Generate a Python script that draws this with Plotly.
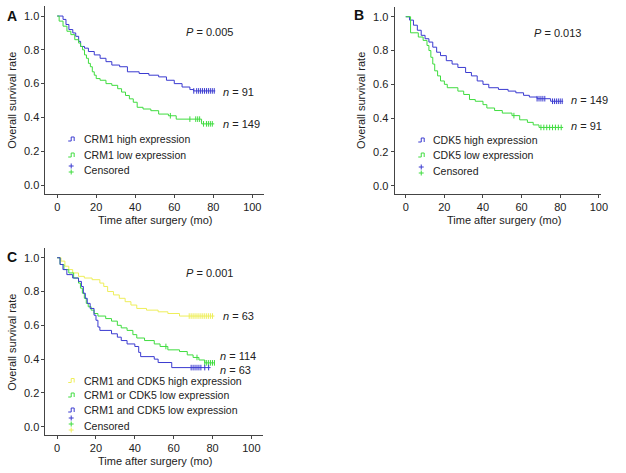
import numpy as np
import plotly.graph_objects as go

W, H = 626, 473

# ---------------- DATA ----------------
# Panel A: CRM1
a_high_t = [0, 3, 4.5, 6, 8, 9.5, 11, 12, 14, 16, 19, 22, 25, 28, 32, 36, 42, 47, 52, 56, 60, 64, 68, 70, 81]
a_high_s = [1.0, 0.98, 0.95, 0.92, 0.90, 0.88, 0.85, 0.82, 0.81, 0.79, 0.77, 0.75, 0.73, 0.71, 0.70, 0.67, 0.66, 0.65, 0.64, 0.62, 0.60, 0.58, 0.565, 0.557, 0.557]
a_high_cens = [70, 71.5, 72.5, 73.5, 74.5, 75.5, 76.5, 77.5, 78.5, 79.5, 80.5]

a_low_t = [0, 1, 3, 5, 7, 9, 11, 12, 13, 14, 15, 16, 17, 18, 19, 20, 22, 25, 28, 31, 33, 35, 37, 39, 41, 44, 48, 52, 57, 61, 74, 80.5]
a_low_s = [1.0, 0.97, 0.94, 0.91, 0.89, 0.86, 0.84, 0.82, 0.80, 0.77, 0.75, 0.72, 0.70, 0.67, 0.65, 0.63, 0.62, 0.60, 0.59, 0.57, 0.55, 0.53, 0.51, 0.49, 0.46, 0.45, 0.44, 0.42, 0.41, 0.39, 0.362, 0.362]
a_low_cens = [58, 68, 71, 72, 73, 75, 76.5, 77.5, 78.5, 79.5]

# Panel B: CDK5
b_high_t = [0, 2, 4, 6, 8, 10, 12, 14, 16, 18, 21, 24, 27, 31, 34, 37, 40, 43, 48, 53, 57, 61, 64, 68, 75, 81.5]
b_high_s = [1.0, 0.98, 0.95, 0.92, 0.89, 0.87, 0.85, 0.82, 0.79, 0.77, 0.74, 0.72, 0.70, 0.67, 0.65, 0.62, 0.60, 0.58, 0.57, 0.56, 0.55, 0.535, 0.525, 0.515, 0.50, 0.50]
b_high_cens = [68, 69, 70, 71, 72, 76, 77, 78, 79, 80, 81]

b_low_t = [0, 2.5, 6.5, 9, 11, 12, 13, 14, 15, 16.5, 18, 20, 21.5, 27, 30, 33, 36, 40, 42, 46, 50, 55, 59, 63, 66, 69, 81.5]
b_low_s = [1.0, 0.905, 0.88, 0.86, 0.83, 0.80, 0.76, 0.72, 0.68, 0.65, 0.62, 0.60, 0.58, 0.56, 0.54, 0.51, 0.50, 0.48, 0.46, 0.445, 0.43, 0.415, 0.39, 0.375, 0.36, 0.345, 0.345]
b_low_cens = [56, 70, 71.5, 73, 74.5, 76, 77.5, 79, 80.5]

# Panel C: CRM1 and CDK5 combined
c_both_high_t = [0, 2, 4, 6, 8, 11, 14, 18, 22, 24, 26, 29, 32, 35, 38, 41, 46, 52, 57, 63, 81]
c_both_high_s = [1.0, 0.98, 0.95, 0.93, 0.91, 0.89, 0.88, 0.87, 0.85, 0.83, 0.80, 0.78, 0.76, 0.74, 0.72, 0.70, 0.69, 0.68, 0.67, 0.655, 0.655]
c_both_high_cens = [68, 69, 70, 71, 72, 73, 74, 75, 76, 77, 78, 79, 80]

c_one_low_t = [0, 1.5, 3.5, 6, 8.5, 11, 12, 13, 14, 15, 16, 17.5, 19, 21, 25, 28, 31, 33, 36, 39, 41, 45, 50, 53, 57, 63, 67, 70, 73, 76, 81]
c_one_low_s = [1.0, 0.96, 0.93, 0.91, 0.88, 0.85, 0.82, 0.79, 0.76, 0.73, 0.71, 0.69, 0.67, 0.655, 0.64, 0.625, 0.60, 0.585, 0.57, 0.545, 0.525, 0.51, 0.49, 0.475, 0.455, 0.445, 0.425, 0.41, 0.395, 0.378, 0.378]
c_one_low_cens = [56, 72, 76, 77, 78, 79, 80, 81]

c_both_low_t = [0, 1.5, 3, 5, 8, 11, 12.5, 13.5, 14.5, 15.5, 17, 19, 20, 21, 22, 28, 31, 33, 36, 40, 42, 43, 50, 52, 59, 79]
c_both_low_s = [1.0, 0.96, 0.93, 0.90, 0.88, 0.86, 0.83, 0.79, 0.76, 0.73, 0.70, 0.66, 0.63, 0.59, 0.57, 0.55, 0.53, 0.51, 0.49, 0.475, 0.44, 0.415, 0.40, 0.38, 0.35, 0.35]
c_both_low_cens = [69, 70, 71, 72, 73, 74, 76, 78]

BLUE = "#3a3ad0"
GREEN = "#3fdc3f"
YELLOW = "#eeee5a"
TXT = "#222222"
FONT = "Liberation Sans"
LEG = 10.5


def step_value(ts, ss, t):
    idx = np.searchsorted(np.asarray(ts), t, side="right") - 1
    idx = max(0, min(idx, len(ss) - 1))
    return ss[idx]


def fx(px):
    return px / W


def fy(py):
    return 1 - py / H


fig = go.Figure()

panels = [
    ("x", "y", [(a_high_t, a_high_s, a_high_cens, BLUE), (a_low_t, a_low_s, a_low_cens, GREEN)]),
    ("x2", "y2", [(b_high_t, b_high_s, b_high_cens, BLUE), (b_low_t, b_low_s, b_low_cens, GREEN)]),
    ("x3", "y3", [(c_both_high_t, c_both_high_s, c_both_high_cens, YELLOW),
                  (c_one_low_t, c_one_low_s, c_one_low_cens, GREEN),
                  (c_both_low_t, c_both_low_s, c_both_low_cens, BLUE)]),
]

for xa, ya, series in panels:
    for ts, ss, cens, col in series:
        fig.add_trace(go.Scatter(x=ts, y=ss, mode="lines", line=dict(color=col, width=1, shape="hv"),
                                 xaxis=xa, yaxis=ya, showlegend=False, hoverinfo="skip"))
        cy = [step_value(ts, ss, c) for c in cens]
        fig.add_trace(go.Scatter(x=cens, y=cy, mode="markers",
                                 marker=dict(symbol="line-ns", size=4, color=col, line=dict(color=col, width=1)),
                                 xaxis=xa, yaxis=ya, showlegend=False, hoverinfo="skip"))

axis_common = dict(showline=True, linecolor="#444", linewidth=1, ticks="outside", ticklen=3,
                   tickcolor="#444", showgrid=False, zeroline=False,
                   tickfont=dict(family=FONT, size=11, color=TXT), fixedrange=True)
xt = dict(tickvals=[0, 20, 40, 60, 80, 100], ticktext=["0", "20", "40", "60", "80", "100"])
yt = dict(tickvals=[0, 0.2, 0.4, 0.6, 0.8, 1.0], ticktext=["0.0", "0.2", "0.4", "0.6", "0.8", "1.0"])

layout = dict(
    width=W, height=H, margin=dict(l=0, r=0, t=0, b=0),
    paper_bgcolor="white", plot_bgcolor="white", showlegend=False,
    xaxis=dict(domain=[fx(46), fx(267)], range=[-6, 106], anchor="y", **xt, **axis_common),
    yaxis=dict(domain=[fy(193.5), fy(5.9)], range=[-0.05, 1.06], anchor="x", **yt, **axis_common),
    xaxis2=dict(domain=[fx(399), fx(608)], range=[-5.8, 101.2], anchor="y2", **xt, **axis_common),
    yaxis2=dict(domain=[fy(194.2), fy(6.6)], range=[-0.05, 1.06], anchor="x2", **yt, **axis_common),
    xaxis3=dict(domain=[fx(46), fx(266)], range=[-6, 106], anchor="y3", **xt, **axis_common),
    yaxis3=dict(domain=[fy(435.2), fy(247.6)], range=[-0.05, 1.06], anchor="x3", **yt, **axis_common),
)
fig.update_layout(**layout)

ann = []
shapes = []


def text(px, py, s, size=11, xanchor="left", angle=0, bold=False):
    ann.append(dict(x=fx(px), y=fy(py), xref="paper", yref="paper", text=(f"<b>{s}</b>" if bold else s),
                    showarrow=False, xanchor=xanchor, yanchor="middle", textangle=angle,
                    font=dict(family=FONT, size=size, color="#111" if bold else TXT)))


def step_glyph(px, py, col):
    x0, x1 = fx(px - 3), fx(px + 3)
    yb, yt_ = fy(py + 2), fy(py - 2)
    xm = fx(px)
    shapes.append(dict(type="path", xref="paper", yref="paper",
                       path=f"M {x0},{yb} L {xm},{yb} L {xm},{yt_} L {x1},{yt_} L {x1},{yb}",
                       line=dict(color=col, width=1)))


def plus(px, py, col):
    shapes.append(dict(type="line", xref="paper", yref="paper", x0=fx(px - 2.5), x1=fx(px + 2.5),
                       y0=fy(py), y1=fy(py), line=dict(color=col, width=1)))
    shapes.append(dict(type="line", xref="paper", yref="paper", x0=fx(px), x1=fx(px),
                       y0=fy(py - 2.5), y1=fy(py + 2.5), line=dict(color=col, width=1)))


# Panel A texts
text(12, 16, "A", size=14, xanchor="center", bold=True)
text(186, 32, "<i>P</i> = 0.005")
text(224, 92, "<i>n</i> = 91")
text(224, 124, "<i>n</i> = 149")
text(12, 100, "Overall survival rate", xanchor="center", angle=-90)
text(157, 220, "Time after surgery (mo)", xanchor="center")
step_glyph(72, 139, BLUE); text(83, 139, "CRM1 high expression", size=LEG)
step_glyph(72, 155, GREEN); text(83, 155, "CRM1 low expression", size=LEG)
plus(72, 166, BLUE); plus(72, 172, GREEN); text(83, 170, "Censored", size=LEG)

# Panel B texts
text(363, 15, "B", size=14, xanchor="center", bold=True)
text(538, 33, "<i>P</i> = 0.013")
text(575, 100, "<i>n</i> = 149")
text(575, 126, "<i>n</i> = 91")
text(365, 100, "Overall survival rate", xanchor="center", angle=-90)
text(510, 220, "Time after surgery (mo)", xanchor="center")
step_glyph(426, 140, BLUE); text(436, 140, "CDK5 high expression", size=LEG)
step_glyph(426, 155, GREEN); text(436, 155, "CDK5 low expression", size=LEG)
plus(426, 167, BLUE); plus(426, 173, GREEN); text(436, 171, "Censored", size=LEG)

# Panel C texts
text(12, 257, "C", size=14, xanchor="center", bold=True)
text(186, 273, "<i>P</i> = 0.001")
text(224, 316, "<i>n</i> = 63")
text(220, 355.5, "<i>n</i> = 114")
text(220, 369.5, "<i>n</i> = 63")
text(12, 342, "Overall survival rate", xanchor="center", angle=-90)
text(157, 461, "Time after surgery (mo)", xanchor="center")
step_glyph(72, 380.5, YELLOW); text(83, 380.5, "CRM1 and CDK5 high expression", size=LEG)
step_glyph(72, 395, GREEN); text(83, 395, "CRM1 or CDK5 low expression", size=LEG)
step_glyph(72, 410, BLUE); text(83, 410, "CRM1 and CDK5 low expression", size=LEG)
plus(72, 418, BLUE); plus(72, 424, GREEN); plus(72, 430, YELLOW); text(83, 425.5, "Censored", size=LEG)

fig.update_layout(annotations=ann, shapes=shapes)
fig.write_html("out.html", config={"displayModeBar": False},
               post_script="document.body.style.margin='0';document.body.style.padding='0';")
